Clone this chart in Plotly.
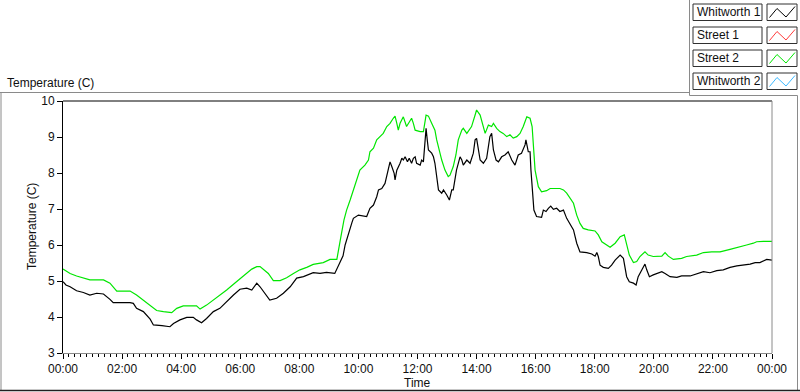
import pandas as pd
import plotly.graph_objects as go

# ---------------- data (hours since midnight, temperature in C) ----------------
whitworth1_hours = [0.00, 0.10, 0.24, 0.46, 0.69, 0.91, 1.14, 1.37, 1.59, 1.70, 2.27, 2.38, 2.49, 2.72, 2.95,
                    3.06, 3.35, 3.62, 3.74, 3.96, 4.19, 4.41, 4.52, 4.69, 4.86, 5.09, 5.31, 5.54, 5.77, 5.99,
                    6.22, 6.39, 6.56, 6.67, 6.89, 7.00, 7.23, 7.46, 7.69, 7.91, 8.14, 8.47, 8.70, 8.92, 9.20,
                    9.32, 9.48, 9.55, 9.65, 9.78, 9.83, 10.00, 10.28, 10.39, 10.51, 10.62, 10.68, 10.79, 10.90,
                    11.01, 11.07, 11.13, 11.21, 11.24, 11.30, 11.41, 11.47, 11.52, 11.58, 11.66, 11.72, 11.80,
                    11.86, 11.92, 11.97, 12.09, 12.14, 12.20, 12.28, 12.29, 12.33, 12.37, 12.48, 12.54, 12.59,
                    12.65, 12.71, 12.82, 12.88, 12.99, 13.08, 13.16, 13.21, 13.32, 13.44, 13.50, 13.55, 13.67,
                    13.78, 13.89, 13.95, 14.00, 14.06, 14.12, 14.23, 14.34, 14.45, 14.51, 14.57, 14.66, 14.74,
                    14.85, 14.96, 15.07, 15.19, 15.30, 15.41, 15.52, 15.64, 15.67, 15.75, 15.81, 15.84, 15.90,
                    15.94, 16.03, 16.20, 16.26, 16.35, 16.43, 16.51, 16.60, 16.71, 16.82, 16.94, 17.05, 17.16,
                    17.28, 17.39, 17.50, 17.73, 17.90, 18.01, 18.07, 18.12, 18.18, 18.29, 18.46, 18.57, 18.69,
                    18.86, 18.97, 19.08, 19.17, 19.31, 19.40, 19.47, 19.59, 19.70, 19.76, 19.85, 19.98, 20.10,
                    20.27, 20.38, 20.55, 20.78, 20.94, 21.23, 21.45, 21.68, 21.90, 22.13, 22.35, 22.58, 22.81,
                    23.03, 23.26, 23.43, 23.59, 23.82, 24.00]
whitworth1_temp = [4.98, 4.89, 4.84, 4.73, 4.68, 4.61, 4.66, 4.64, 4.49, 4.40, 4.40, 4.38, 4.24, 4.15, 3.94,
                   3.78, 3.76, 3.73, 3.82, 3.92, 3.99, 3.99, 3.92, 3.84, 3.96, 4.15, 4.24, 4.43, 4.61, 4.77,
                   4.80, 4.75, 4.94, 4.84, 4.61, 4.47, 4.52, 4.66, 4.84, 5.08, 5.12, 5.23, 5.21, 5.24, 5.21,
                   5.42, 5.70, 6.00, 6.30, 6.62, 6.74, 6.83, 6.79, 7.02, 7.11, 7.34, 7.53, 7.57, 7.71,
                   8.08, 8.31, 8.18, 7.99, 7.81, 8.08, 8.27, 8.41, 8.36, 8.45, 8.31, 8.41, 8.27,
                   8.41, 8.45, 8.27, 8.22, 8.36, 8.31, 9.10, 9.24, 8.92, 8.64, 8.55, 8.45, 8.27,
                   7.90, 7.53, 7.44, 7.53, 7.39, 7.25, 7.53, 7.53, 8.08, 8.45, 8.36, 8.22, 8.36,
                   8.27, 8.55, 8.92, 8.96, 8.64, 8.36, 8.27, 8.41, 9.01, 9.10, 8.64, 8.36, 8.31,
                   8.45, 8.50, 8.59, 8.36, 8.22, 8.50, 8.55, 8.78, 8.92, 8.59, 8.59, 8.08, 7.34,
                   6.97, 6.79, 6.77, 6.97, 6.93, 7.02, 7.08, 6.99, 7.02, 6.93, 6.97, 6.74, 6.60,
                   6.42, 6.05, 5.81, 5.79, 5.75, 5.69, 5.79, 5.68, 5.44, 5.38, 5.35, 5.44, 5.58,
                   5.72, 5.63, 5.12, 4.98, 4.94, 4.89, 5.12, 5.31, 5.47, 5.31, 5.12, 5.17, 5.21,
                   5.26, 5.21, 5.12, 5.10, 5.14, 5.14, 5.19, 5.26, 5.23, 5.29, 5.31, 5.38, 5.42,
                   5.44, 5.47, 5.51, 5.51, 5.60, 5.58]

street2_hours = [0.00, 0.10, 0.24, 0.46, 0.69, 0.91, 1.37, 1.59, 1.82, 2.27, 2.49, 2.72, 2.95, 3.17, 3.40,
                 3.68, 3.85, 4.07, 4.52, 4.64, 4.86, 5.09, 5.31, 5.54, 5.77, 5.99, 6.22, 6.39, 6.56, 6.67,
                 6.95, 7.12, 7.35, 7.57, 7.80, 8.02, 8.25, 8.47, 8.81, 9.04, 9.27, 9.32, 9.40, 9.51, 9.60,
                 9.72, 9.83, 9.94, 10.05, 10.22, 10.34, 10.39, 10.51, 10.62, 10.73, 10.84, 10.96, 11.07,
                 11.18, 11.24, 11.30, 11.35, 11.41, 11.52, 11.63, 11.69, 11.80, 11.86, 11.92, 12.09, 12.20,
                 12.29, 12.37, 12.48, 12.59, 12.65, 12.71, 12.82, 12.93, 13.04, 13.10, 13.21, 13.30, 13.38,
                 13.50, 13.55, 13.67, 13.83, 13.95, 14.00, 14.12, 14.23, 14.29, 14.40, 14.51, 14.57, 14.68,
                 14.79, 14.90, 15.02, 15.13, 15.24, 15.36, 15.47, 15.58, 15.70, 15.81, 15.88, 15.92, 15.98,
                 16.09, 16.20, 16.37, 16.49, 16.82, 16.94, 17.05, 17.16, 17.28, 17.39, 17.50, 17.61, 17.78,
                 18.01, 18.12, 18.24, 18.41, 18.52, 18.69, 18.86, 19.00, 19.08, 19.17, 19.31, 19.42, 19.53,
                 19.70, 19.81, 19.98, 20.27, 20.38, 20.49, 20.66, 20.94, 21.11, 21.45, 21.68, 21.96, 22.24,
                 22.58, 22.92, 23.14, 23.37, 23.48, 23.71, 24.00]
street2_temp = [5.33, 5.28, 5.21, 5.14, 5.09, 5.03, 5.03, 4.94, 4.72, 4.72, 4.61, 4.47, 4.31, 4.18, 4.15,
                4.12, 4.24, 4.31, 4.31, 4.22, 4.33, 4.47, 4.61, 4.75, 4.91, 5.05, 5.21, 5.33, 5.40, 5.40,
                5.21, 5.01, 5.01, 5.09, 5.21, 5.31, 5.38, 5.46, 5.51, 5.60, 5.60, 5.80, 6.20, 6.69, 6.97,
                7.25, 7.53, 7.85, 8.08, 8.22, 8.36, 8.59, 8.69, 8.92, 9.01, 9.10, 9.29, 9.38,
                9.52, 9.58, 9.38, 9.19, 9.38, 9.56, 9.29, 9.38, 9.52, 9.38, 9.19, 9.15, 9.15,
                9.61, 9.58, 9.38, 9.19, 8.92, 8.69, 8.36, 8.08, 7.90, 7.94, 8.18, 8.50, 8.92,
                9.19, 9.24, 9.10, 9.29, 9.61, 9.75, 9.61, 9.29, 9.10, 9.33, 9.29, 9.38, 9.24,
                9.15, 9.10, 9.01, 9.06, 8.97, 9.01, 9.10, 9.29, 9.56, 9.52, 9.29, 8.73, 8.08,
                7.62, 7.48, 7.51, 7.57, 7.57, 7.53, 7.44, 7.30, 7.16, 6.83, 6.60, 6.46, 6.42,
                6.39, 6.28, 6.09, 6.00, 5.94, 6.05, 6.23, 6.28, 6.05, 5.72, 5.51, 5.54, 5.68,
                5.81, 5.72, 5.68, 5.69, 5.79, 5.69, 5.60, 5.63, 5.68, 5.72, 5.79, 5.81, 5.81,
                5.88, 5.94, 6.00, 6.05, 6.09, 6.10, 6.10]

legend_names = ["Whitworth 1", "Street 1", "Street 2", "Whitworth 2"]
legend_colors = ["#000000", "#ff3b3b", "#00e600", "#3cb9ff"]
y_ticks = [3, 4, 5, 6, 7, 8, 9, 10]
axis_title_y = "Temperature (C)"
axis_title_x = "Time"
panel_title = "Temperature (C)"

# ---------------- layout geometry (pixels) ----------------
W, H = 800, 392
L, R, T, B = 63, 28, 101, 39
PW, PH = W - L - R, H - T - B
FONT = "Liberation Sans, Arial, sans-serif"


def fx(px):
    return (px - L) / PW


def fy(py):
    return (H - B - py) / PH


base = pd.Timestamp("2013-01-01")
to_time = lambda hrs: [base + pd.Timedelta(hours=h) for h in hrs]

fig = go.Figure()
fig.add_trace(go.Scatter(x=to_time(street2_hours), y=street2_temp, mode="lines",
                         line=dict(color=legend_colors[2], width=1.2), name=legend_names[2]))
fig.add_trace(go.Scatter(x=to_time(whitworth1_hours), y=whitworth1_temp, mode="lines",
                         line=dict(color=legend_colors[0], width=1.2), name=legend_names[0]))

shapes = []
gray = "#8a8a8a"


def seg(x0, y0, x1, y1, color, width=1):
    shapes.append(dict(type="line", xref="paper", yref="paper", x0=fx(x0), y0=fy(y0),
                       x1=fx(x1), y1=fy(y1), line=dict(color=color, width=width)))


# plot frame: top black, right gray
seg(L, T, L + PW, T, "#000000")
seg(L + PW, T, L + PW, T + PH, gray)
# outer panel frame
seg(0, 92.5, 689.5, 92.5, gray)
seg(689.5, 0, 689.5, 95.5, gray)
seg(689.5, 95.5, 797.5, 95.5, gray)
seg(797.5, 95.5, 797.5, 391, gray)
seg(1, 92.5, 1, 391, gray)
seg(0, 390.5, 800, 390.5, "#202020", 1.5)

annotations = []
# legend
row_tops = [4, 27, 50, 73]
for name, color, top in zip(legend_names, legend_colors, row_tops):
    bot = top + 16.5
    shapes.append(dict(type="rect", xref="paper", yref="paper", x0=fx(693), x1=fx(762),
                       y0=fy(top), y1=fy(bot), line=dict(color="#303030", width=1), fillcolor="white"))
    shapes.append(dict(type="rect", xref="paper", yref="paper", x0=fx(767), x1=fx(797),
                       y0=fy(top), y1=fy(bot), line=dict(color="#303030", width=1), fillcolor="white"))
    zx = [769.5, 777, 786, 795]
    zy = [top + 13.5, top + 4.5, top + 13, top + 2.5]
    path = "M {} {} ".format(fx(zx[0]), fy(zy[0])) + " ".join(
        "L {} {}".format(fx(a), fy(b)) for a, b in zip(zx[1:], zy[1:]))
    shapes.append(dict(type="path", xref="paper", yref="paper", path=path,
                       line=dict(color=color, width=1)))
    annotations.append(dict(xref="paper", yref="paper", x=fx(695), y=fy((top + bot) / 2),
                            xanchor="left", yanchor="middle", text=name, showarrow=False,
                            font=dict(family=FONT, size=12, color="#101010")))

annotations.append(dict(xref="paper", yref="paper", x=fx(5), y=fy(82.5), xanchor="left", yanchor="middle",
                        text=panel_title, showarrow=False, font=dict(family=FONT, size=12, color="#101010")))
annotations.append(dict(xref="paper", yref="paper", x=fx(32), y=fy(227), xanchor="center", yanchor="middle",
                        text=axis_title_y, textangle=-90, showarrow=False,
                        font=dict(family=FONT, size=12, color="#101010")))
annotations.append(dict(xref="paper", yref="paper", x=fx(417.5), y=fy(383), xanchor="center",
                        yanchor="middle", text=axis_title_x, showarrow=False,
                        font=dict(family=FONT, size=12, color="#101010")))

fig.update_layout(
    width=W, height=H, margin=dict(l=L, r=R, t=T, b=B, pad=0),
    paper_bgcolor="white", plot_bgcolor="white", showlegend=False,
    font=dict(family=FONT, size=12, color="#101010"),
    shapes=shapes, annotations=annotations,
    xaxis=dict(type="date", range=[base, base + pd.Timedelta(hours=24)], tickformat="%H:%M",
               dtick=2 * 3600 * 1000, tick0=base, ticks="outside", ticklen=5, tickcolor="#000000",
               showline=True, linecolor=gray, linewidth=1, showgrid=False, zeroline=False,
               tickfont=dict(family=FONT, size=12, color="#101010"),
               minor=dict(dtick=12 * 60 * 1000, tick0=base, ticks="outside", ticklen=3,
                          tickcolor="#000000", showgrid=False)),
    yaxis=dict(range=[3, 10], tickvals=y_ticks, ticks="outside", ticklen=5, tickcolor="#000000",
               showline=True, linecolor="#000000", linewidth=1, showgrid=False, zeroline=False,
               tickfont=dict(family=FONT, size=12, color="#101010")),
)

fig.write_html("out.html", config={"displayModeBar": False},
               post_script="document.body.style.margin='0';document.body.style.overflow='hidden';")
